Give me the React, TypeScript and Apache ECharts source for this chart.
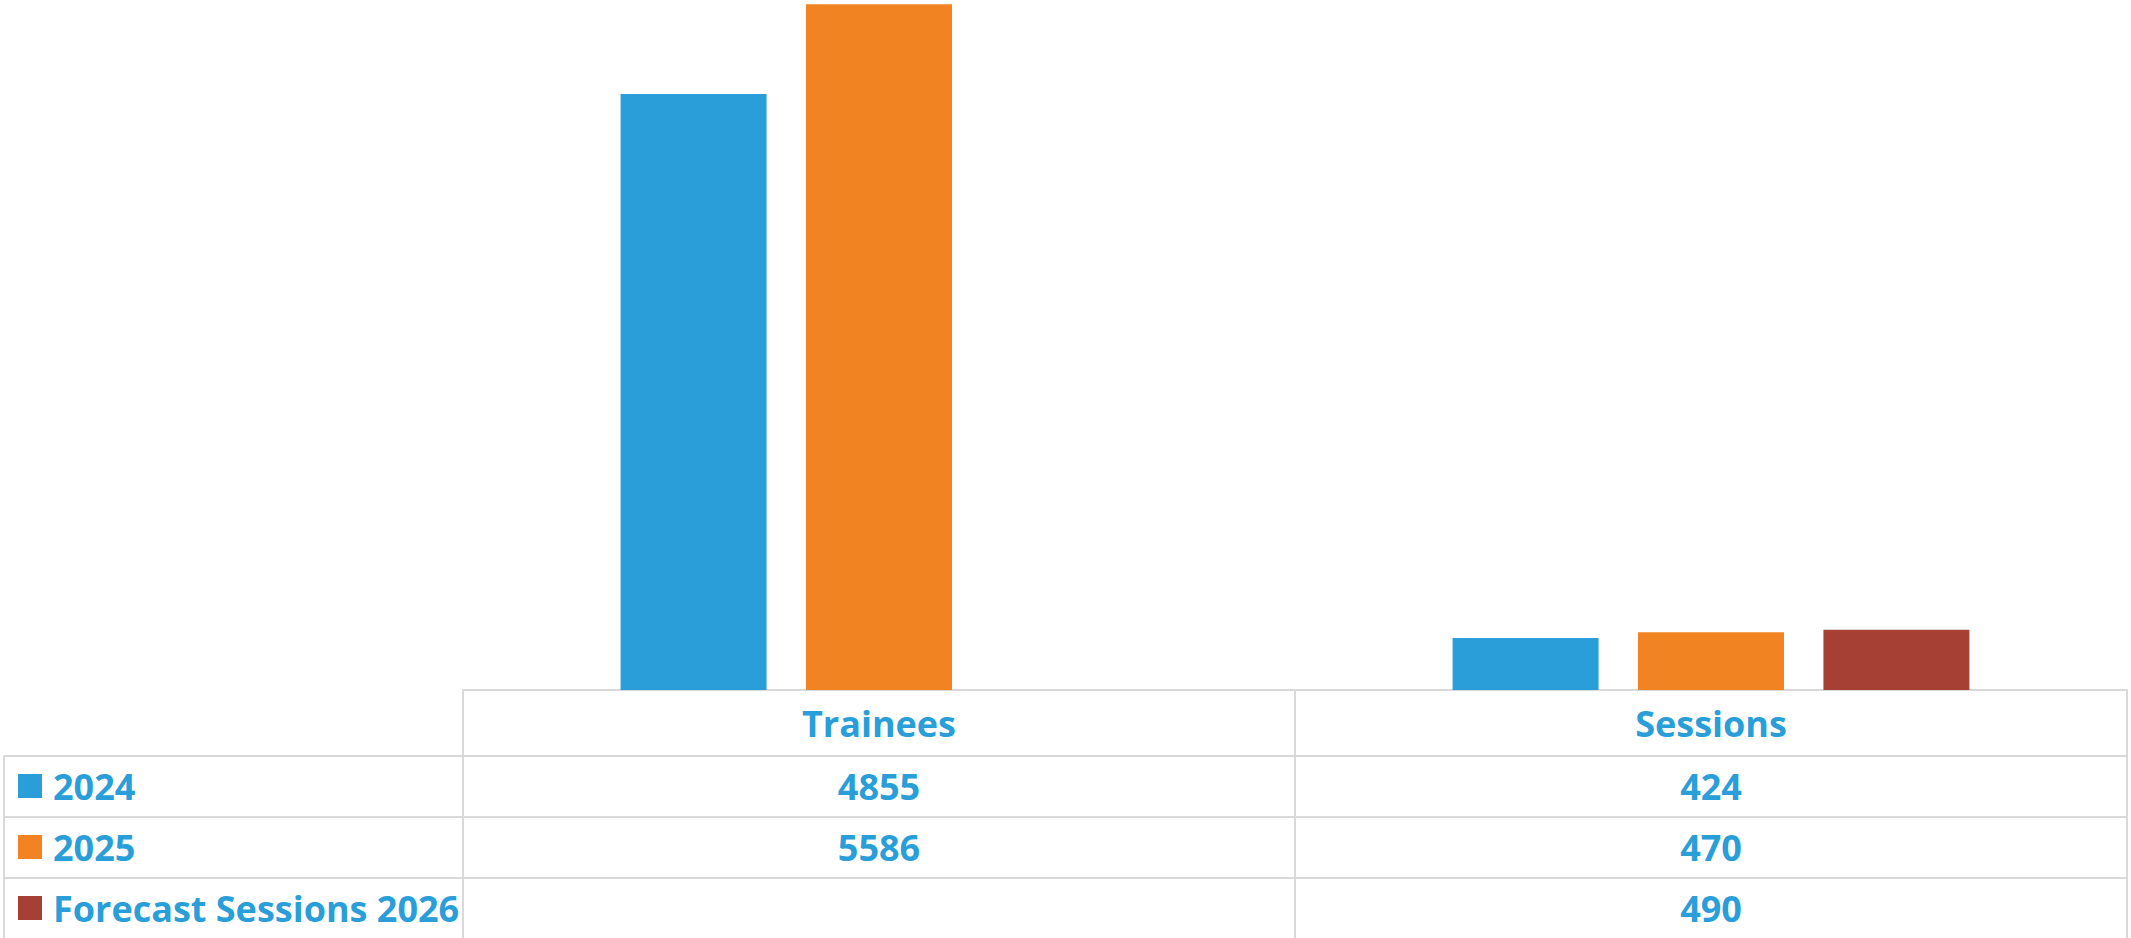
import React, { useEffect, useRef } from "react";
import * as echarts from "echarts";

const categories = ["Trainees", "Sessions"];
const seriesNames = ["2024", "2025", "Forecast Sessions 2026"];
const values2024: (number | null)[] = [4855, 424];
const values2025: (number | null)[] = [5586, 470];
const forecast2026: (number | null)[] = [null, 490];
const seriesValues = [values2024, values2025, forecast2026];
const seriesColors = ["#2A9ED9", "#F28322", "#A64034"];

const TEXT_BLUE = "#2A9ED9";
const LINE_GRAY = "#D9D9D9";
const FONT = "'Open Sans', 'Liberation Sans', sans-serif";

export default function App() {
  const ref = useRef<HTMLDivElement>(null);
  useEffect(() => {
    if (!ref.current) return;
    const chart = echarts.init(ref.current, null, { renderer: "svg" });
    const gridLeft = 463;
    const gridRight = 4;
    const axisY = 690;
    const rowLines = [756, 817, 878];
    const rowCenters = [786, 847, 908];

    const valueAxes = seriesValues.map((arr, i) => ({
      type: "category",
      data: categories,
      position: "bottom",
      gridIndex: 0,
      axisLine: { show: false },
      axisTick: { show: false },
      splitLine: { show: false },
      axisLabel: {
        interval: 0,
        margin: rowCenters[i] - axisY,
        verticalAlign: "middle",
        color: TEXT_BLUE,
        fontSize: 36,
        fontWeight: "bold",
        fontFamily: FONT,
        formatter: (_v: string, idx: number) => {
          const v = arr[idx];
          return v == null ? "" : String(v);
        },
      },
    }));

    const graphics: any[] = [];
    rowLines.forEach((y) => {
      graphics.push({
        type: "line",
        shape: { x1: 4, y1: y, x2: 2131 - gridRight, y2: y },
        style: { stroke: LINE_GRAY, lineWidth: 2 },
        silent: true,
      });
    });
    graphics.push({
      type: "line",
      shape: { x1: 4, y1: rowLines[0], x2: 4, y2: 938 },
      style: { stroke: LINE_GRAY, lineWidth: 2 },
      silent: true,
    });

    chart.setOption({
      animation: false,
      backgroundColor: "#ffffff",
      textStyle: { fontFamily: FONT },
      grid: {
        left: gridLeft,
        right: gridRight,
        top: 0,
        bottom: 938 - axisY,
        containLabel: false,
        outerBoundsMode: "none",
      },
      legend: {
        orient: "vertical",
        left: 18,
        top: rowCenters[0] - 20,
        padding: 0,
        itemWidth: 24,
        itemHeight: 24,
        itemGap: 61 - 40,
        icon: "rect",
        selectedMode: false,
        data: seriesNames,
        textStyle: {
          color: TEXT_BLUE,
          fontSize: 36,
          fontWeight: "bold",
          fontFamily: FONT,
          lineHeight: 40,
          padding: [0, 0, 0, 6],
        },
      },
      xAxis: [
        {
          type: "category",
          data: categories,
          position: "bottom",
          gridIndex: 0,
          axisLine: { show: true, lineStyle: { color: LINE_GRAY, width: 2 } },
          axisTick: {
            show: true,
            length: 938 - axisY,
            lineStyle: { color: LINE_GRAY, width: 2 },
          },
          splitLine: { show: false },
          axisLabel: {
            interval: 0,
            margin: 33,
            verticalAlign: "middle",
            color: TEXT_BLUE,
            fontSize: 36,
            fontWeight: "bold",
            fontFamily: FONT,
          },
        },
        ...valueAxes,
      ],
      yAxis: {
        type: "value",
        min: 0,
        max: 5620,
        show: false,
        splitLine: { show: false },
      },
      series: seriesNames.map((name, i) => ({
        name,
        type: "bar",
        xAxisIndex: 0,
        data: seriesValues[i],
        barWidth: 146,
        barGap: "27%",
        itemStyle: { color: seriesColors[i] },
      })),
      graphic: graphics,
    });
    return () => chart.dispose();
  }, []);
  return (
    <div
      ref={ref}
      style={{ position: "absolute", left: 0, top: 0, width: 2131, height: 938 }}
    />
  );
}
